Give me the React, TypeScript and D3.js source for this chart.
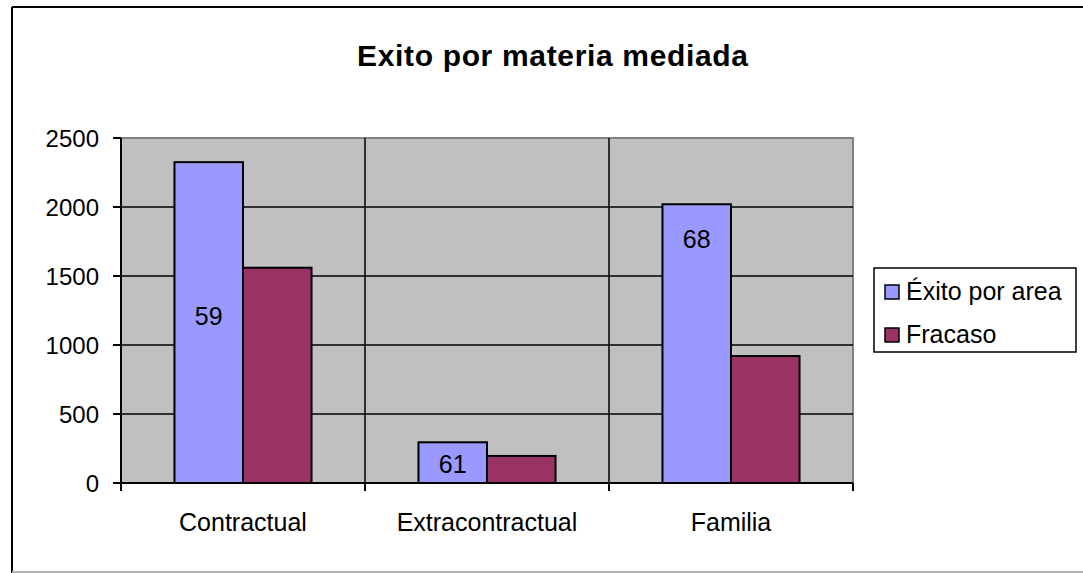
import React from "react";
import * as d3 from "d3";

const categories = ["Contractual", "Extracontractual", "Familia"];
const seriesNames = ["Éxito por area", "Fracaso"];
const exito = [2325, 295, 2020];
const fracaso = [1560, 196, 920];
const labelTexts = ["59", "61", "68"];
const labelValues = [1145, 72, 1703];
const yTicks = [0, 500, 1000, 1500, 2000, 2500];

const W = 1083;
const H = 573;
const plot = { left: 121, right: 853, top: 138, bottom: 483 };
const colors = ["#9999FF", "#993366"];
const FONT = "'Liberation Sans', Arial, sans-serif";

export default function App() {
  const y = d3.scaleLinear().domain([0, 2500]).range([plot.bottom, plot.top]);
  const x = d3.scaleBand<string>().domain(categories).range([plot.left, plot.right]).padding(0);
  const xs = d3
    .scaleBand<string>()
    .domain(seriesNames)
    .range([0, x.bandwidth()])
    .paddingInner(0)
    .paddingOuter(0.78);
  const series = [exito, fracaso];

  return (
    <svg
      width={W}
      height={H}
      style={{ position: "absolute", left: 0, top: 0, background: "#fff" }}
      fontFamily={FONT}
    >
      <rect x={0} y={0} width={W} height={H} fill="#fff" />
      {/* outer chart border */}
      <line x1={12} y1={7} x2={W} y2={7} stroke="#000" strokeWidth={2} />
      <line x1={12} y1={7} x2={12} y2={H} stroke="#000" strokeWidth={2} />
      <line x1={12} y1={572} x2={W} y2={572} stroke="#b0b0b0" strokeWidth={2} />

      {/* title */}
      <text
        x={357}
        y={66}
        fontSize={30}
        fontWeight="bold"
        fill="#000"
        textLength={391}
        lengthAdjust="spacing"
      >
        Exito por materia mediada
      </text>

      {/* plot area */}
      <rect
        x={plot.left}
        y={plot.top}
        width={plot.right - plot.left}
        height={plot.bottom - plot.top}
        fill="#C0C0C0"
        stroke="#808080"
        strokeWidth={2}
      />
      {/* horizontal gridlines */}
      {yTicks
        .filter((t) => t > 0 && t < 2500)
        .map((t) => (
          <line key={t} x1={plot.left} x2={plot.right} y1={y(t)} y2={y(t)} stroke="#000" strokeWidth={1.5} />
        ))}
      {/* vertical category dividers */}
      {categories.slice(1).map((c) => (
        <line key={c} x1={x(c)!} x2={x(c)!} y1={plot.top} y2={plot.bottom} stroke="#000" strokeWidth={1.5} />
      ))}

      {/* bars */}
      {categories.map((c, i) =>
        series.map((s, j) => (
          <rect
            key={c + j}
            x={x(c)! + xs(seriesNames[j])!}
            y={y(s[i])}
            width={xs.bandwidth()}
            height={y(0) - y(s[i])}
            fill={colors[j]}
            stroke="#000"
            strokeWidth={2}
          />
        ))
      )}

      {/* data labels */}
      {categories.map((c, i) => (
        <text
          key={"lab" + c}
          x={x(c)! + xs(seriesNames[0])! + xs.bandwidth() / 2}
          y={y(labelValues[i])}
          textAnchor="middle"
          fontSize={25}
          fill="#000"
        >
          {labelTexts[i]}
        </text>
      ))}

      {/* axes */}
      <line x1={plot.left} x2={plot.left} y1={plot.top} y2={plot.bottom + 8} stroke="#000" strokeWidth={2} />
      <line x1={plot.left} x2={plot.right} y1={plot.bottom} y2={plot.bottom} stroke="#000" strokeWidth={2} />
      {yTicks.map((t) => (
        <g key={"yt" + t}>
          <line x1={plot.left - 8} x2={plot.left} y1={y(t)} y2={y(t)} stroke="#000" strokeWidth={2} />
          <text x={99} y={y(t) + 9} textAnchor="end" fontSize={24} fill="#000">
            {t}
          </text>
        </g>
      ))}
      {[...categories.map((c) => x(c)!), plot.right].map((px, i) => (
        <line key={"xt" + i} x1={px} x2={px} y1={plot.bottom} y2={plot.bottom + 8} stroke="#000" strokeWidth={2} />
      ))}
      {categories.map((c) => (
        <text key={"xl" + c} x={x(c)! + x.bandwidth() / 2} y={531} textAnchor="middle" fontSize={25} fill="#000">
          {c}
        </text>
      ))}

      {/* legend */}
      <rect x={874} y={268} width={202} height={84} fill="#fff" stroke="#000" strokeWidth={1.5} />
      {seriesNames.map((n, j) => (
        <g key={"lg" + n}>
          <rect x={885} y={285 + j * 43} width={14} height={14} fill={colors[j]} stroke="#000" strokeWidth={1.5} />
          <text x={906} y={300 + j * 43} fontSize={25} fill="#000">
            {n}
          </text>
        </g>
      ))}
    </svg>
  );
}
